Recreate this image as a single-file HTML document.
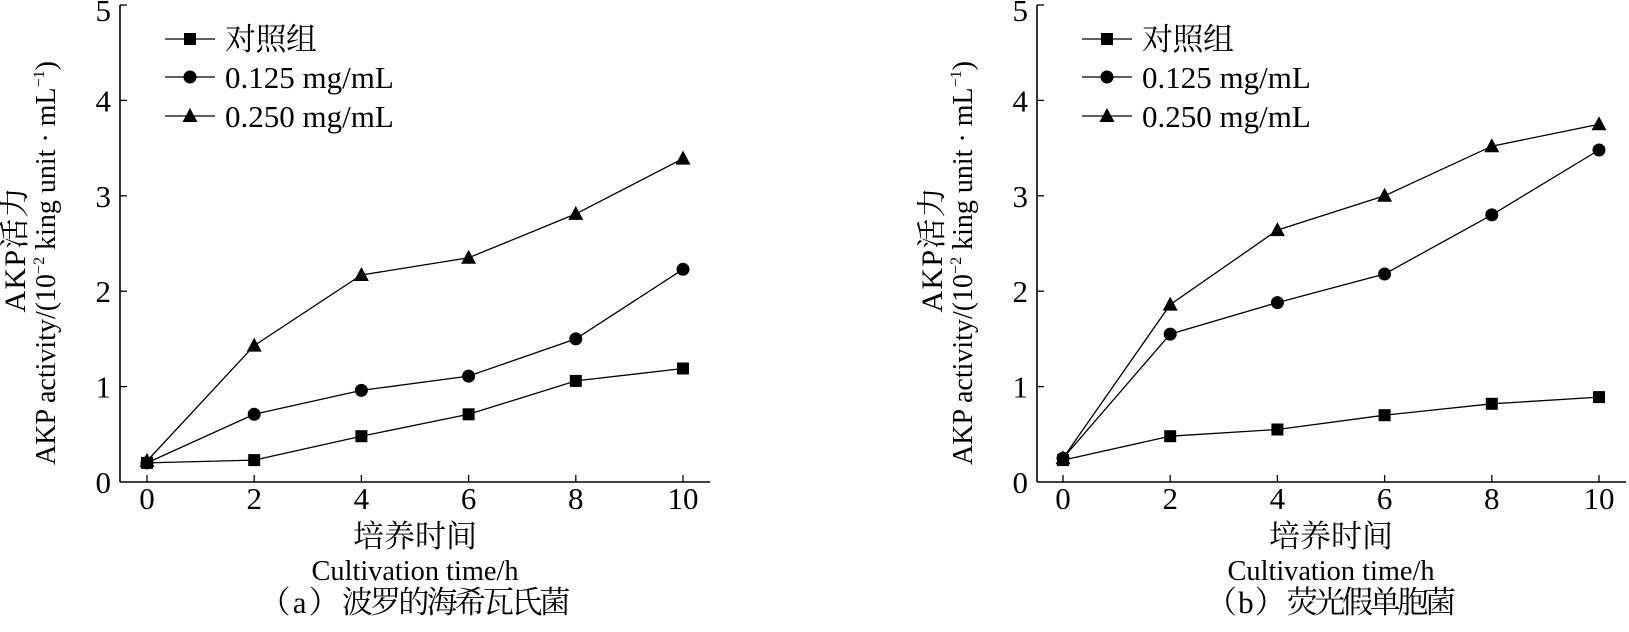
<!DOCTYPE html>
<html><head><meta charset="utf-8"><style>
body{margin:0;background:#fff}
svg text{font-family:"Liberation Serif","Noto Serif CJK SC",serif;fill:#000}
</style></head><body>
<svg width="1629" height="627" viewBox="0 0 1629 627" xmlns="http://www.w3.org/2000/svg" xmlns:xlink="http://www.w3.org/1999/xlink">
<defs>
<rect id="sq" x="-6" y="-6" width="12" height="12" fill="#000"/>
<circle id="ci" r="6.5" fill="#000"/>
<polygon id="tr" points="0,-8 7.5,6 -7.5,6" fill="#000"/>
</defs>

<!-- LEFT CHART -->
<g stroke="#000" fill="none">
<line x1="120" y1="5" x2="120" y2="482" stroke-width="1.6"/>
<line x1="120" y1="482" x2="710" y2="482" stroke-width="1.6"/>
<g stroke-width="1.3">
<line x1="120" y1="386.6" x2="127" y2="386.6"/><line x1="120" y1="291.2" x2="127" y2="291.2"/><line x1="120" y1="195.8" x2="127" y2="195.8"/><line x1="120" y1="100.4" x2="127" y2="100.4"/><line x1="120" y1="5" x2="127" y2="5"/>
<line x1="147" y1="482" x2="147" y2="475"/><line x1="254.2" y1="482" x2="254.2" y2="475"/><line x1="361.4" y1="482" x2="361.4" y2="475"/><line x1="468.6" y1="482" x2="468.6" y2="475"/><line x1="575.8" y1="482" x2="575.8" y2="475"/><line x1="683" y1="482" x2="683" y2="475"/>
<polyline points="147,462.9 254.2,460.1 361.4,436.2 468.6,414.3 575.8,380.9 683,368.5"/>
<polyline points="147,462.9 254.2,414.3 361.4,390.4 468.6,376.1 575.8,338.9 683,269.3"/>
<polyline points="147,461 254.2,345.6 361.4,275 468.6,257.8 575.8,213.9 683,158.6"/>
<line x1="165" y1="39" x2="215" y2="39"/><line x1="165" y1="77" x2="215" y2="77"/><line x1="165" y1="116" x2="215" y2="116"/>
</g></g>
<g>
<use xlink:href="#sq" x="147" y="462.9"/><use xlink:href="#sq" x="254.2" y="460.1"/><use xlink:href="#sq" x="361.4" y="436.2"/><use xlink:href="#sq" x="468.6" y="414.3"/><use xlink:href="#sq" x="575.8" y="380.9"/><use xlink:href="#sq" x="683" y="368.5"/>
<use xlink:href="#ci" x="147" y="462.9"/><use xlink:href="#ci" x="254.2" y="414.3"/><use xlink:href="#ci" x="361.4" y="390.4"/><use xlink:href="#ci" x="468.6" y="376.1"/><use xlink:href="#ci" x="575.8" y="338.9"/><use xlink:href="#ci" x="683" y="269.3"/>
<use xlink:href="#tr" x="147" y="461"/><use xlink:href="#tr" x="254.2" y="345.6"/><use xlink:href="#tr" x="361.4" y="275"/><use xlink:href="#tr" x="468.6" y="257.8"/><use xlink:href="#tr" x="575.8" y="213.9"/><use xlink:href="#tr" x="683" y="158.6"/>
<use xlink:href="#sq" x="190" y="39"/><use xlink:href="#ci" x="190" y="77"/><use xlink:href="#tr" x="190" y="116"/>
</g>
<g font-size="31" text-anchor="end">
<text x="111" y="493">0</text><text x="111" y="397.6">1</text><text x="111" y="302.2">2</text><text x="111" y="206.8">3</text><text x="111" y="111.4">4</text><text x="111" y="21">5</text>
</g>
<g font-size="31" text-anchor="middle">
<text x="147" y="509">0</text><text x="254.2" y="509">2</text><text x="361.4" y="509">4</text><text x="468.6" y="509">6</text><text x="575.8" y="509">8</text><text x="683" y="509">10</text>
</g>
<g font-size="31">
<text x="225" y="50" textLength="92">对照组</text><text x="225" y="88">0.125 mg/mL</text><text x="225" y="127">0.250 mg/mL</text>
</g>
<text transform="translate(25,250) rotate(-90)" font-size="30" text-anchor="middle" textLength="125">AKP活力</text>
<text transform="translate(55,263) rotate(-90)" font-size="28" text-anchor="middle">AKP activity/(10<tspan font-size="16" dy="-11">−2</tspan><tspan dy="11"> king unit · mL</tspan><tspan font-size="16" dy="-11">−1</tspan><tspan dy="11">)</tspan></text>
<text x="415" y="547" font-size="31" text-anchor="middle" textLength="124">培养时间</text>
<text x="415" y="580" font-size="28" text-anchor="middle" textLength="207" lengthAdjust="spacingAndGlyphs">Cultivation time/h</text>
<text x="415" y="613" font-size="31" text-anchor="middle" textLength="311">（ a ） 波罗的海希瓦氏菌</text>

<!-- RIGHT CHART -->
<g stroke="#000" fill="none">
<line x1="1037" y1="5" x2="1037" y2="482" stroke-width="1.6"/>
<line x1="1037" y1="482" x2="1626" y2="482" stroke-width="1.6"/>
<g stroke-width="1.3">
<line x1="1037" y1="386.6" x2="1044" y2="386.6"/><line x1="1037" y1="291.2" x2="1044" y2="291.2"/><line x1="1037" y1="195.8" x2="1044" y2="195.8"/><line x1="1037" y1="100.4" x2="1044" y2="100.4"/><line x1="1037" y1="5" x2="1044" y2="5"/>
<line x1="1063" y1="482" x2="1063" y2="475"/><line x1="1170.2" y1="482" x2="1170.2" y2="475"/><line x1="1277.4" y1="482" x2="1277.4" y2="475"/><line x1="1384.6" y1="482" x2="1384.6" y2="475"/><line x1="1491.8" y1="482" x2="1491.8" y2="475"/><line x1="1599" y1="482" x2="1599" y2="475"/>
<polyline points="1063,460.1 1170.2,436.2 1277.4,429.5 1384.6,415.2 1491.8,403.8 1599,397.1"/>
<polyline points="1063,458.2 1170.2,334.1 1277.4,302.6 1384.6,274 1491.8,214.9 1599,150"/>
<polyline points="1063,458.2 1170.2,304.6 1277.4,230.1 1384.6,195.8 1491.8,146.2 1599,124.3"/>
<line x1="1082" y1="39" x2="1132" y2="39"/><line x1="1082" y1="77" x2="1132" y2="77"/><line x1="1082" y1="116" x2="1132" y2="116"/>
</g></g>
<g>
<use xlink:href="#sq" x="1063" y="460.1"/><use xlink:href="#sq" x="1170.2" y="436.2"/><use xlink:href="#sq" x="1277.4" y="429.5"/><use xlink:href="#sq" x="1384.6" y="415.2"/><use xlink:href="#sq" x="1491.8" y="403.8"/><use xlink:href="#sq" x="1599" y="397.1"/>
<use xlink:href="#ci" x="1063" y="458.2"/><use xlink:href="#ci" x="1170.2" y="334.1"/><use xlink:href="#ci" x="1277.4" y="302.6"/><use xlink:href="#ci" x="1384.6" y="274"/><use xlink:href="#ci" x="1491.8" y="214.9"/><use xlink:href="#ci" x="1599" y="150"/>
<use xlink:href="#tr" x="1063" y="458.2"/><use xlink:href="#tr" x="1170.2" y="304.6"/><use xlink:href="#tr" x="1277.4" y="230.1"/><use xlink:href="#tr" x="1384.6" y="195.8"/><use xlink:href="#tr" x="1491.8" y="146.2"/><use xlink:href="#tr" x="1599" y="124.3"/>
<use xlink:href="#sq" x="1107" y="39"/><use xlink:href="#ci" x="1107" y="77"/><use xlink:href="#tr" x="1107" y="116"/>
</g>
<g font-size="31" text-anchor="end">
<text x="1028" y="493">0</text><text x="1028" y="397.6">1</text><text x="1028" y="302.2">2</text><text x="1028" y="206.8">3</text><text x="1028" y="111.4">4</text><text x="1028" y="21">5</text>
</g>
<g font-size="31" text-anchor="middle">
<text x="1063" y="509">0</text><text x="1170.2" y="509">2</text><text x="1277.4" y="509">4</text><text x="1384.6" y="509">6</text><text x="1491.8" y="509">8</text><text x="1599" y="509">10</text>
</g>
<g font-size="31">
<text x="1142" y="50" textLength="92">对照组</text><text x="1142" y="88">0.125 mg/mL</text><text x="1142" y="127">0.250 mg/mL</text>
</g>
<text transform="translate(942,250) rotate(-90)" font-size="30" text-anchor="middle" textLength="125">AKP活力</text>
<text transform="translate(972,263) rotate(-90)" font-size="28" text-anchor="middle">AKP activity/(10<tspan font-size="16" dy="-11">−2</tspan><tspan dy="11"> king unit · mL</tspan><tspan font-size="16" dy="-11">−1</tspan><tspan dy="11">)</tspan></text>
<text x="1331" y="547" font-size="31" text-anchor="middle" textLength="124">培养时间</text>
<text x="1331" y="580" font-size="28" text-anchor="middle" textLength="207" lengthAdjust="spacingAndGlyphs">Cultivation time/h</text>
<text x="1331" y="613" font-size="31" text-anchor="middle" textLength="250">（ b ） 荧光假单胞菌</text>
</svg>
</body></html>
